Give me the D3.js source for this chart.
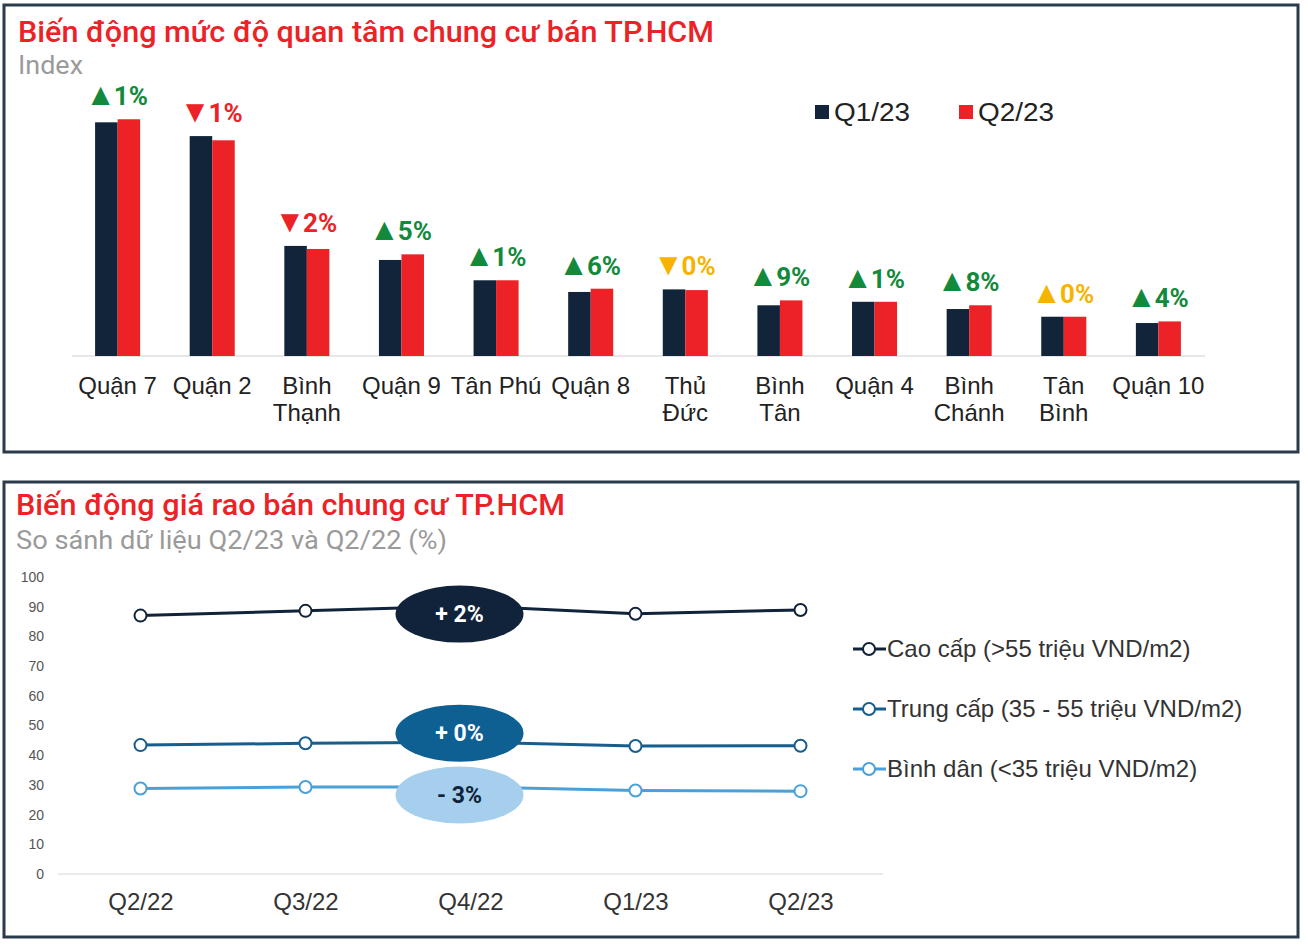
<!DOCTYPE html>
<html>
<head>
<meta charset="utf-8">
<script src="https://cdn.jsdelivr.net/npm/d3@7"></script>
<style>
  html, body { margin: 0; padding: 0; background: #fff; }
  svg { display: block; }
</style>
</head>
<body>
<svg id="chart" width="1308" height="948"></svg>
<script>
// ---------- DATA: chart 1 (interest index) ----------
const districts = ["Quận 7", "Quận 2", "Bình\nThạnh", "Quận 9", "Tân Phú", "Quận 8",
                   "Thủ\nĐức", "Bình\nTân", "Quận 4", "Bình\nChánh", "Tân\nBình", "Quận 10"];
const barSeries = ["Q1/23", "Q2/23"];
const q1_23 = [100, 94.1, 47.1, 41.1, 32.4, 27.4, 28.5, 21.7, 23.2, 20.1, 16.8, 14.1];
const q2_23 = [101.3, 92.3, 45.8, 43.5, 32.4, 28.8, 28.2, 23.8, 23.2, 21.7, 16.8, 14.8];
const changeLabels = ["1%", "1%", "2%", "5%", "1%", "6%", "0%", "9%", "1%", "8%", "0%", "4%"];
const changeDir = ["up", "down", "down", "up", "up", "up", "down", "up", "up", "up", "up", "up"];
const changeKind = ["pos", "neg", "neg", "pos", "pos", "pos", "flat", "pos", "pos", "pos", "flat", "pos"];

// ---------- DATA: chart 2 (asking price) ----------
const quarters = ["Q2/22", "Q3/22", "Q4/22", "Q1/23", "Q2/23"];
const lineNames = ["Cao cấp (>55 triệu VND/m2)", "Trung cấp (35 - 55 triệu VND/m2)", "Bình dân (<35 triệu VND/m2)"];
const caoCap = [87.0, 88.6, 90.2, 87.6, 88.9];
const trungCap = [43.4, 44.0, 44.4, 43.1, 43.2];
const binhDan = [28.8, 29.3, 29.3, 28.1, 27.9];
const yTicks = [0, 10, 20, 30, 40, 50, 60, 70, 80, 90, 100];
const yoyLabels = ["+ 2%", "+ 0%", "- 3%"];

// ---------- STYLES ----------
const RED = "#ec2227", NAVY = "#12243a", BORDER = "#2b3b4b";
const barColors = [NAVY, RED];
const kindColor = { pos: "#13893c", neg: "#ec2227", flat: "#f6b400" };
const lineColors = ["#10233a", "#175d8e", "#4aa0d9"];
const pillColors = ["#10233a", "#0e5f92", "#a5cfec"];
const pillText = ["#ffffff", "#ffffff", "#10233a"];
const pillOffsets = [8, -9, 8];
const FONT = "Roboto, 'Liberation Sans', Arial, sans-serif";
const ARIAL = "'Liberation Sans', Arial, sans-serif";

const svg = d3.select("#chart");

// Panel borders
[[4, 5, 1294, 447], [4, 482, 1294, 455]].forEach(([x, y, w, h]) => {
  svg.append("rect").attr("x", x).attr("y", y).attr("width", w).attr("height", h)
    .attr("fill", "none").attr("stroke", BORDER).attr("stroke-width", 3);
});

function fitText(sel, width) {
  sel.attr("textLength", width).attr("lengthAdjust", "spacingAndGlyphs");
}

// ================= Chart 1 =================
const g1 = svg.append("g");
g1.append("text").attr("x", 18).attr("y", 42).text("Biến động mức độ quan tâm chung cư bán TP.HCM")
  .attr("font-family", FONT).attr("font-weight", 500).attr("font-size", 30).attr("fill", RED)
  .call(fitText, 696);
g1.append("text").attr("x", 18).attr("y", 74).text("Index")
  .attr("font-family", FONT).attr("font-size", 25).attr("fill", "#9a9a9a")
  .call(fitText, 65);

const x1 = d3.scaleBand().domain(districts).range([72, 1204]).paddingInner(0.524).paddingOuter(0.244);
const xs1 = d3.scaleBand().domain(barSeries).range([0, x1.bandwidth()]);
const y1 = d3.scaleLinear().domain([0, 100]).range([356, 122.3]);

const barData = districts.map((d, i) => ({ d, i, vals: [q1_23[i], q2_23[i]] }));

// baseline
g1.append("line").attr("x1", 72).attr("x2", 1205).attr("y1", y1(0)).attr("y2", y1(0))
  .attr("stroke", "#dcdfe3").attr("stroke-width", 1.5);

const groups = g1.selectAll("g.grp").data(barData).join("g").attr("class", "grp")
  .attr("transform", d => `translate(${x1(d.d)},0)`);
groups.selectAll("rect").data(d => d.vals.map((v, k) => ({ v, k })))
  .join("rect")
  .attr("x", d => xs1(barSeries[d.k]))
  .attr("width", xs1.bandwidth())
  .attr("y", d => y1(d.v))
  .attr("height", d => y1(0) - y1(d.v))
  .attr("fill", d => barColors[d.k]);

// change labels
groups.append("text")
  .attr("x", x1.bandwidth() / 2 - 1)
  .attr("y", d => y1(Math.max(...d.vals)) - 14)
  .attr("text-anchor", "middle")
  .attr("font-family", FONT).attr("font-weight", 700).attr("font-size", 26)
  .attr("fill", d => kindColor[changeKind[d.i]])
  .each(function (d) {
    const t = d3.select(this);
    t.append("tspan").attr("font-family", ARIAL).attr("font-size", 31)
      .text(changeDir[d.i] === "up" ? "▲" : "▼");
    t.append("tspan").attr("dx", -2).text(changeLabels[d.i]);
  });

// category labels
const xAxis1 = g1.append("g");
barData.forEach(d => {
  const lines = d.d.split("\n");
  const t = xAxis1.append("text")
    .attr("x", x1(d.d) + x1.bandwidth() / 2)
    .attr("y", 394)
    .attr("text-anchor", "middle")
    .attr("font-family", ARIAL).attr("font-size", 24).attr("fill", "#222");
  lines.forEach((ln, j) => {
    t.append("tspan").attr("x", x1(d.d) + x1.bandwidth() / 2).attr("dy", j === 0 ? 0 : 27).text(ln);
  });
});

// legend chart 1
const leg1 = g1.append("g").attr("transform", "translate(815,112)");
barSeries.forEach((s, k) => {
  const gx = k * 144;
  leg1.append("rect").attr("x", gx).attr("y", -7).attr("width", 14).attr("height", 14).attr("fill", barColors[k]);
  leg1.append("text").attr("x", gx + 19).attr("y", 9).text(s)
    .attr("font-family", ARIAL).attr("font-size", 26).attr("fill", "#222")
    .call(fitText, 76);
});

// ================= Chart 2 =================
const g2 = svg.append("g");
g2.append("text").attr("x", 16).attr("y", 515).text("Biến động giá rao bán chung cư TP.HCM")
  .attr("font-family", FONT).attr("font-weight", 500).attr("font-size", 30).attr("fill", RED)
  .call(fitText, 549);
g2.append("text").attr("x", 16).attr("y", 549).text("So sánh dữ liệu Q2/23 và Q2/22 (%)")
  .attr("font-family", FONT).attr("font-size", 25).attr("fill", "#9a9a9a")
  .call(fitText, 431);

const x2 = d3.scalePoint().domain(quarters).range([58, 883]).padding(0.5);
const y2 = d3.scaleLinear().domain([0, 100]).range([874, 577]);

// baseline
g2.append("line").attr("x1", 58).attr("x2", 883).attr("y1", y2(0)).attr("y2", y2(0))
  .attr("stroke", "#e3e5e8").attr("stroke-width", 1.5);

// y axis
const yAx = g2.append("g").attr("transform", "translate(50,0)")
  .call(d3.axisLeft(y2).tickValues(yTicks).tickSize(0).tickPadding(6));
yAx.select(".domain").remove();
yAx.selectAll("text").attr("font-family", ARIAL).attr("font-size", 14).attr("fill", "#555");

// x axis
const xAx = g2.append("g").attr("transform", `translate(0,${y2(0)})`)
  .call(d3.axisBottom(x2).tickSize(0).tickPadding(19));
xAx.select(".domain").remove();
xAx.selectAll("text").attr("font-family", ARIAL).attr("font-size", 24).attr("fill", "#333");

const lineData = [caoCap, trungCap, binhDan];
const lineGen = d3.line().x((d, i) => x2(quarters[i])).y(d => y2(d));

lineData.forEach((vals, s) => {
  g2.append("path").attr("d", lineGen(vals)).attr("fill", "none")
    .attr("stroke", lineColors[s]).attr("stroke-width", 3);
  g2.selectAll(null).data(vals).join("circle")
    .attr("cx", (d, i) => x2(quarters[i])).attr("cy", d => y2(d)).attr("r", 6)
    .attr("fill", "#fff").attr("stroke", lineColors[s]).attr("stroke-width", 2);
});

// YoY pills at Q4/22
lineData.forEach((vals, s) => {
  const cx = x2("Q4/22") - 11;
  const cy = y2(vals[2]) + pillOffsets[s];
  g2.append("ellipse").attr("cx", cx).attr("cy", cy).attr("rx", 64).attr("ry", 28.5)
    .attr("fill", pillColors[s]);
  g2.append("text").attr("x", cx).attr("y", cy + 8).attr("text-anchor", "middle")
    .attr("font-family", FONT).attr("font-weight", 700).attr("font-size", 23)
    .attr("fill", pillText[s]).text(yoyLabels[s]);
});

// legend chart 2
lineNames.forEach((n, s) => {
  const ly = 649 + s * 60;
  const lg = g2.append("g");
  lg.append("line").attr("x1", 853).attr("x2", 886).attr("y1", ly).attr("y2", ly)
    .attr("stroke", lineColors[s]).attr("stroke-width", 3);
  lg.append("circle").attr("cx", 869).attr("cy", ly).attr("r", 6)
    .attr("fill", "#fff").attr("stroke", lineColors[s]).attr("stroke-width", 2);
  lg.append("text").attr("x", 887).attr("y", ly + 8).text(n)
    .attr("font-family", ARIAL).attr("font-size", 24).attr("fill", "#333");
});
</script>
</body>
</html>
